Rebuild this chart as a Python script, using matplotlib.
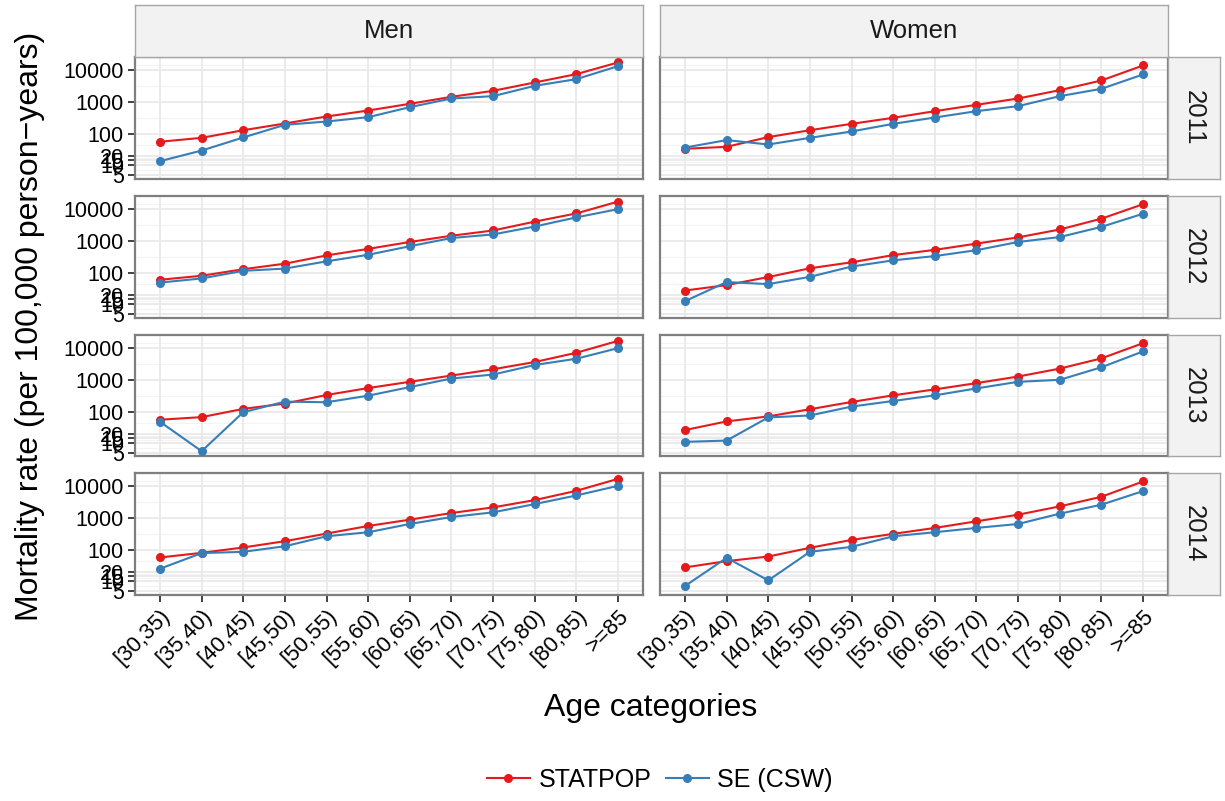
import numpy as np
import matplotlib
matplotlib.use('Agg')
import matplotlib.pyplot as plt
from matplotlib.lines import Line2D

plt.rcParams['font.family'] = ['Liberation Sans', 'DejaVu Sans']

age_labels = ['[30,35)', '[35,40)', '[40,45)', '[45,50)', '[50,55)', '[55,60)',
              '[60,65)', '[65,70)', '[70,75)', '[75,80)', '[80,85)', '>=85']
sexes = ['Men', 'Women']
years = ['2011', '2012', '2013', '2014']

# values (per 100,000 person-years)
statpop_men_2011 = [55, 73, 127, 207, 344, 532, 865, 1439, 2225, 4080, 7480, 17470]
se_men_2011 = [13.4, 29, 75, 188, 239, 328, 679, 1274, 1510, 3200, 5200, 13370]
statpop_women_2011 = [33, 38, 77, 127, 202, 313, 507, 804, 1274, 2335, 4720, 14030]
se_women_2011 = [36, 62, 45, 73, 116, 202, 320, 507, 730, 1510, 2575, 7300]

statpop_men_2012 = [59, 79, 127, 190, 346, 557, 920, 1448, 2120, 4040, 7330, 17300]
se_men_2012 = [48, 65, 113, 133, 225, 363, 675, 1225, 1592, 2825, 5500, 10000]
statpop_women_2012 = [27, 40, 72, 136, 210, 354, 519, 817, 1285, 2280, 5000, 14300]
se_women_2012 = [12.5, 50, 43, 73, 154, 242, 330, 507, 920, 1316, 2755, 7160]

statpop_men_2013 = [55, 66.5, 121, 178, 332, 550, 866, 1365, 2155, 3650, 7150, 16960]
se_men_2013 = [47.5, 5.6, 95, 205, 196, 316, 590, 1100, 1468, 2940, 4640, 10000]
statpop_women_2013 = [26, 48.7, 70, 118, 200, 324, 499, 787, 1271, 2260, 4755, 14330]
se_women_2013 = [11, 12.1, 65, 75, 143, 215, 324, 536, 866, 1000, 2490, 7870]

statpop_men_2014 = [56, 78.5, 116, 183, 318, 554, 875, 1418, 2138, 3630, 7130, 17000]
se_men_2014 = [24.7, 77, 84.5, 127, 262, 351, 640, 1062, 1490, 2720, 5090, 10240]
statpop_women_2014 = [27.2, 43, 60, 113, 201, 311, 480, 776, 1256, 2296, 4620, 14020]
se_women_2014 = [7.05, 54.7, 10.6, 84.5, 121, 262, 351, 480, 640, 1352, 2595, 6970]

panels = {
    ('Men', '2011'): (statpop_men_2011, se_men_2011),
    ('Women', '2011'): (statpop_women_2011, se_women_2011),
    ('Men', '2012'): (statpop_men_2012, se_men_2012),
    ('Women', '2012'): (statpop_women_2012, se_women_2012),
    ('Men', '2013'): (statpop_men_2013, se_men_2013),
    ('Women', '2013'): (statpop_women_2013, se_women_2013),
    ('Men', '2014'): (statpop_men_2014, se_men_2014),
    ('Women', '2014'): (statpop_women_2014, se_women_2014),
}

y_breaks = [5, 10, 15, 20, 100, 1000, 10000]
red = '#E41A1C'
blue = '#377EB8'

W, H = 1225, 801
fig = plt.figure(figsize=(W / 100, H / 100), dpi=100)


def rect(x0, y0, x1, y1):
    return [x0 / W, 1 - y1 / H, (x1 - x0) / W, (y1 - y0) / H]


col_x = [(135, 643), (660, 1168)]
row_top = [57, 196, 335, 473]
panel_h = 121.5

lb = np.log10(y_breaks)
minor = list((lb[:-1] + lb[1:]) / 2) + [lb[-1] + (lb[1] - lb[0]) / 2]
minor = [10 ** m for m in minor]

x = np.arange(len(age_labels))
for r, yr in enumerate(years):
    for c, sex in enumerate(sexes):
        x0, x1 = col_x[c]
        y0 = row_top[r]
        ax = fig.add_axes(rect(x0, y0, x1, y0 + panel_h))
        sp, se = panels[(sex, yr)]
        ax.set_yscale('log')
        ax.set_ylim(10 ** 0.58, 10 ** 4.415)
        ax.set_xlim(-0.6, len(age_labels) - 0.4)
        for m in minor:
            ax.axhline(m, color='#F3F3F3', lw=0.8, zorder=0)
        for b in y_breaks:
            ax.axhline(b, color='#E8E8E8', lw=1.2, zorder=0)
        for xi in x:
            ax.axvline(xi, color='#E8E8E8', lw=1.2, zorder=0)
        ax.plot(x, sp, color=red, lw=1.5, marker='o', ms=5.5, zorder=3)
        ax.plot(x, se, color=blue, lw=1.5, marker='o', ms=5.5, zorder=3)
        ax.yaxis.set_minor_locator(matplotlib.ticker.NullLocator())
        ax.set_yticks(y_breaks)
        ax.set_xticks(x)
        if c == 0:
            ax.set_yticklabels([str(b) for b in y_breaks], fontsize=15.5)
        else:
            ax.set_yticklabels([])
        if r == 3:
            ax.set_xticklabels(age_labels, rotation=45, ha='right', va='top',
                               rotation_mode='anchor', fontsize=16)
        else:
            ax.set_xticklabels([])
        ax.tick_params(axis='both', which='major', color='#333333', width=1.3,
                       length=5, pad=3, labelcolor='black')
        if c == 1:
            ax.tick_params(axis='y', length=0)
        if r < 3:
            ax.tick_params(axis='x', length=0)
        for s in ax.spines.values():
            s.set_color('#7F7F7F')
            s.set_linewidth(1.6)
        ax.set_facecolor('white')

        # right strip with year
        if c == 1:
            sax = fig.add_axes(rect(1168, y0, 1220, y0 + panel_h))
            sax.set_facecolor('#F2F2F2')
            sax.set_xticks([])
            sax.set_yticks([])
            for s in sax.spines.values():
                s.set_color('#A6A6A6')
                s.set_linewidth(1.0)
            sax.text(0.5, 0.5, yr, rotation=-90, ha='center', va='center',
                     fontsize=18.5, color='#1A1A1A', transform=sax.transAxes)

# top strips
for c, sex in enumerate(sexes):
    x0, x1 = col_x[c]
    sax = fig.add_axes(rect(x0, 5, x1, 57))
    sax.set_facecolor('#F2F2F2')
    sax.set_xticks([])
    sax.set_yticks([])
    for s in sax.spines.values():
        s.set_color('#A6A6A6')
        s.set_linewidth(1.0)
    sax.text(0.5, 0.5, sex, ha='center', va='center', fontsize=18.5,
             color='#1A1A1A', transform=sax.transAxes)

fig.text(30 / W, 1 - 326 / H, 'Mortality rate (per 100,000 person\u2212years)',
         rotation=90, ha='center', va='center', fontsize=23)
fig.text(651 / W, 1 - 708 / H, 'Age categories', ha='center', va='center',
         fontsize=23)

handles = [Line2D([], [], color=red, lw=1.5, marker='o', ms=5.5),
           Line2D([], [], color=blue, lw=1.5, marker='o', ms=5.5)]
fig.legend(handles, ['STATPOP', 'SE (CSW)'], loc='center',
           bbox_to_anchor=(660 / W, 1 - 780 / H), ncol=2, frameon=False,
           fontsize=18, handlelength=1.7, handletextpad=0.35,
           columnspacing=0.6)

fig.savefig('out.png', dpi=100, facecolor='white')
